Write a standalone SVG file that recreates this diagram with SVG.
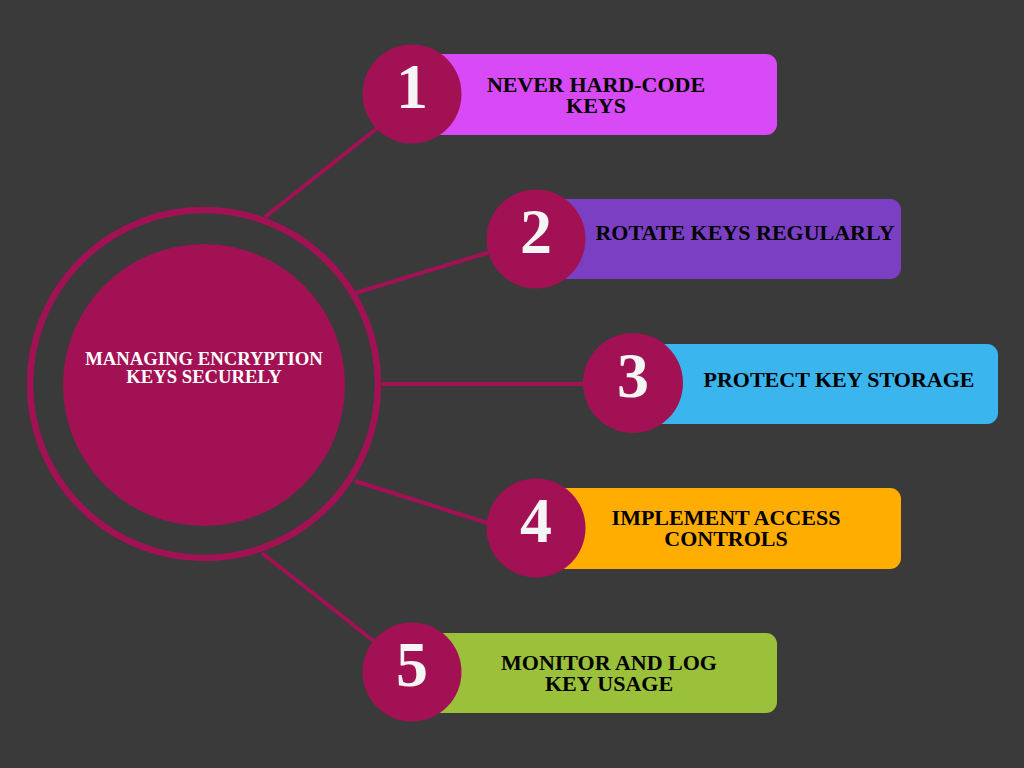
<svg xmlns="http://www.w3.org/2000/svg" width="1024" height="768" viewBox="0 0 1024 768">
<style>
.bg{fill:#3a3a3a}
.conn{stroke:#a31155;stroke-width:4;fill:none}
.badge{fill:#a31155}
.num{font-family:"Liberation Serif",serif;font-weight:bold;font-size:64px;fill:#f5f5f5;text-anchor:middle}
.lbl{font-family:"Liberation Serif",serif;font-weight:bold;font-size:22px;fill:#000;text-anchor:middle}
.title{font-family:"Liberation Serif",serif;font-weight:bold;font-size:18.7px;fill:#fff;text-anchor:middle}
</style>
<rect class="bg" x="0" y="0" width="1024" height="768"/>
<g id="connectors">
<line class="conn" x1="265" y1="217" x2="390" y2="118"/>
<line class="conn" x1="355" y1="293" x2="500" y2="249"/>
<line class="conn" x1="380" y1="384" x2="590" y2="384"/>
<line class="conn" x1="355" y1="481" x2="500" y2="527"/>
<line class="conn" x1="262" y1="553" x2="385" y2="650"/>
</g>
<g id="center">
<circle cx="204" cy="384" r="174" fill="none" stroke="#a31155" stroke-width="6.5"/>
<circle cx="204" cy="385" r="141" fill="#a31155"/>
<text class="title" x="204" y="365">MANAGING ENCRYPTION</text>
<text class="title" x="204" y="383">KEYS SECURELY</text>
</g>
<g id="step1">
<rect x="420" y="54" width="357" height="81" rx="11" fill="#d84af5"/>
<circle class="badge" cx="412" cy="94" r="49.5"/>
<text class="num" x="412" y="108">1</text>
<text class="lbl" x="596" y="92">NEVER HARD-CODE</text>
<text class="lbl" x="596" y="113">KEYS</text>
</g>
<g id="step2">
<rect x="544" y="199" width="357" height="80" rx="11" fill="#7b3fc4"/>
<circle class="badge" cx="536" cy="239" r="49.5"/>
<text class="num" x="536" y="253">2</text>
<text class="lbl" x="745" y="240">ROTATE KEYS REGULARLY</text>
</g>
<g id="step3">
<rect x="641" y="344" width="357" height="80" rx="11" fill="#3bb5ee"/>
<circle class="badge" cx="633" cy="383" r="50"/>
<text class="num" x="633" y="397">3</text>
<text class="lbl" x="839" y="387">PROTECT KEY STORAGE</text>
</g>
<g id="step4">
<rect x="544" y="488" width="357" height="81" rx="11" fill="#ffad00"/>
<circle class="badge" cx="536" cy="528" r="49.5"/>
<text class="num" x="536" y="542">4</text>
<text class="lbl" x="726" y="525">IMPLEMENT ACCESS</text>
<text class="lbl" x="726" y="546">CONTROLS</text>
</g>
<g id="step5">
<rect x="420" y="633" width="357" height="80" rx="11" fill="#9bc03a"/>
<circle class="badge" cx="412" cy="672" r="49.5"/>
<text class="num" x="412" y="686">5</text>
<text class="lbl" x="609" y="670">MONITOR AND LOG</text>
<text class="lbl" x="609" y="691">KEY USAGE</text>
</g>
</svg>
